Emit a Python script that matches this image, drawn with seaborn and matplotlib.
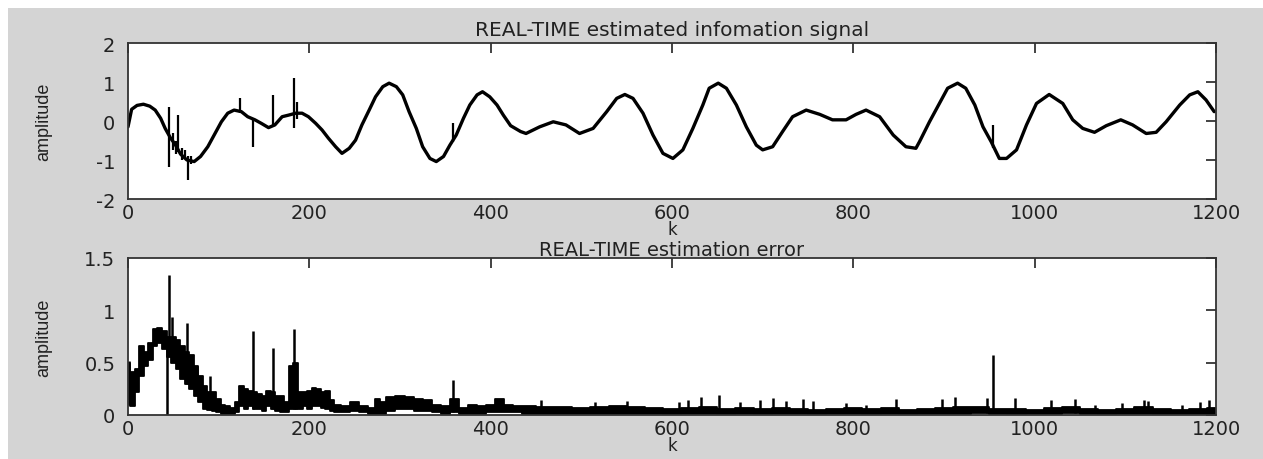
import numpy as np
import pandas as pd
import matplotlib
matplotlib.use("Agg")
import matplotlib.pyplot as plt
from matplotlib.patches import Rectangle
import seaborn as sns

# ---------------- data ----------------
sig_k = [0, 4, 10, 17, 24, 30, 36, 41, 47, 52, 58, 65, 73, 80, 88, 95, 103, 110, 117, 125,
         132, 140, 147, 155, 162, 170, 177, 185, 192, 199, 207, 214, 221, 229, 236, 244, 251,
         258, 266, 273, 281, 288, 296, 303, 310, 318, 325, 333, 340, 348, 355, 362, 370, 377,
         385, 391, 399, 407, 414, 422, 433, 439, 454, 469, 483, 498, 513, 528, 539, 548, 557,
         568, 579, 590, 601, 612, 623, 634, 641, 651, 660, 671, 682, 693, 700, 711, 722, 733,
         748, 763, 777, 792, 803, 814, 829, 844, 858, 869, 873, 884, 895, 904, 915, 924, 934,
         943, 952, 961, 969, 980, 991, 1002, 1016, 1031, 1042, 1053, 1066, 1079, 1095, 1108,
         1123, 1134, 1145, 1160, 1171, 1180, 1189, 1198]
sig_amp = [-0.15, 0.30, 0.40, 0.43, 0.38, 0.28, 0.07, -0.19, -0.44, -0.60, -0.85, -1.00, -1.04,
           -0.91, -0.66, -0.36, -0.02, 0.20, 0.28, 0.24, 0.11, 0.03, -0.06, -0.17, -0.10, 0.11,
           0.15, 0.20, 0.20, 0.11, -0.06, -0.23, -0.44, -0.66, -0.83, -0.70, -0.49, -0.10, 0.28,
           0.62, 0.88, 0.97, 0.88, 0.67, 0.24, -0.19, -0.66, -0.96, -1.04, -0.91, -0.62, -0.36,
           0.07, 0.41, 0.67, 0.75, 0.62, 0.41, 0.15, -0.12, -0.27, -0.32, -0.15, -0.02, -0.10,
           -0.32, -0.19, 0.24, 0.58, 0.68, 0.58, 0.20, -0.36, -0.83, -0.96, -0.74, -0.19, 0.41,
           0.84, 0.97, 0.84, 0.41, -0.15, -0.62, -0.74, -0.66, -0.27, 0.11, 0.28, 0.17, 0.03,
           0.03, 0.17, 0.28, 0.11, -0.36, -0.66, -0.70, -0.53, -0.02, 0.45, 0.84, 0.97, 0.84,
           0.41, -0.15, -0.53, -0.96, -0.96, -0.74, -0.10, 0.45, 0.68, 0.45, 0.03, -0.19, -0.29,
           -0.12, 0.03, -0.10, -0.32, -0.29, -0.02, 0.41, 0.67, 0.75, 0.54, 0.24]

# spikes on the signal: k, low end, high end
sig_spike_k = [45, 50, 53, 55, 60, 63, 66, 70, 124, 138, 160, 183, 186, 359, 954]
sig_spike_lo = [-1.17, -0.75, -0.85, -0.80, -1.00, -0.95, -1.51, -1.10, 0.20, -0.66, -0.15,
                -0.19, 0.05, -0.55, -0.70]
sig_spike_hi = [0.35, -0.30, -0.50, 0.15, -0.70, -0.75, -0.90, -0.90, 0.58, 0.05, 0.67,
                1.11, 0.50, -0.06, -0.10]

# error band: k, lower edge, upper edge
err_k = [0, 5, 10, 15, 20, 25, 30, 35, 40, 45, 50, 55, 60, 65, 70, 75, 80, 85, 90, 95, 100,
         105, 110, 115, 120, 125, 130, 135, 140, 145, 150, 155, 160, 165, 170, 175, 180, 185,
         190, 195, 200, 205, 210, 215, 220, 225, 230, 240, 250, 260, 270, 275, 280, 290, 300,
         310, 320, 330, 340, 350, 360, 370, 380, 390, 400, 410, 420, 430, 440, 460, 480, 500,
         520, 540, 560, 580, 600, 620, 640, 660, 680, 700, 720, 740, 760, 780, 800, 820, 840,
         860, 880, 900, 920, 940, 960, 980, 1000, 1020, 1040, 1060, 1080, 1100, 1120, 1140,
         1160, 1180, 1200]
err_lo = [0.15, 0.09, 0.22, 0.37, 0.47, 0.53, 0.66, 0.69, 0.63, 0.55, 0.50, 0.44, 0.34, 0.30,
          0.25, 0.18, 0.12, 0.06, 0.05, 0.04, 0.03, 0.01, 0.01, 0.01, 0.03, 0.09, 0.06, 0.09,
          0.06, 0.06, 0.04, 0.09, 0.06, 0.04, 0.03, 0.03, 0.06, 0.06, 0.06, 0.09, 0.06, 0.09,
          0.09, 0.07, 0.06, 0.04, 0.03, 0.03, 0.04, 0.03, 0.01, 0.01, 0.01, 0.04, 0.06, 0.06,
          0.04, 0.04, 0.03, 0.01, 0.03, 0.01, 0.01, 0.01, 0.03, 0.03, 0.03, 0.03, 0.01, 0.01,
          0.01, 0.01, 0.01, 0.01, 0.01, 0.01, 0.00, 0.01, 0.01, 0.00, 0.01, 0.00, 0.01, 0.01,
          0.00, 0.01, 0.01, 0.00, 0.01, 0.00, 0.01, 0.01, 0.01, 0.02, 0.01, 0.00, 0.01, 0.01,
          0.02, 0.01, 0.00, 0.01, 0.01, 0.00, 0.00, 0.01, 0.01]
err_hi = [0.50, 0.41, 0.44, 0.66, 0.60, 0.69, 0.82, 0.83, 0.80, 0.75, 0.75, 0.72, 0.66, 0.60,
          0.57, 0.47, 0.37, 0.28, 0.22, 0.22, 0.15, 0.10, 0.09, 0.07, 0.12, 0.28, 0.25, 0.23,
          0.22, 0.20, 0.18, 0.23, 0.22, 0.18, 0.18, 0.12, 0.47, 0.50, 0.22, 0.22, 0.23, 0.26,
          0.25, 0.22, 0.23, 0.14, 0.10, 0.09, 0.12, 0.09, 0.07, 0.15, 0.12, 0.17, 0.18, 0.17,
          0.15, 0.14, 0.10, 0.09, 0.15, 0.07, 0.10, 0.09, 0.10, 0.15, 0.10, 0.09, 0.09, 0.08,
          0.08, 0.07, 0.08, 0.09, 0.08, 0.07, 0.06, 0.07, 0.08, 0.06, 0.07, 0.06, 0.07, 0.06,
          0.05, 0.06, 0.07, 0.06, 0.07, 0.05, 0.06, 0.07, 0.08, 0.08, 0.06, 0.06, 0.05, 0.07,
          0.08, 0.06, 0.05, 0.06, 0.08, 0.06, 0.05, 0.06, 0.07]

# spikes on the error: k, low end, high end
err_spike_k = [1, 43, 45, 48, 65, 76, 90, 138, 160, 183, 185, 358, 456, 515, 550, 608, 618, 632,
               652, 675, 697, 711, 726, 744, 755, 792, 814, 847, 898, 912, 947, 954, 978, 1018,
               1044, 1066, 1096, 1121, 1125, 1162, 1182, 1192]
err_spike_lo = [0.10, 0.00, 0.60, 0.55, 0.30, 0.20, 0.05, 0.06, 0.06, 0.06, 0.06, 0.03, 0.02,
                0.02, 0.02, 0.02, 0.02, 0.02, 0.02, 0.02, 0.02, 0.02, 0.02, 0.02, 0.02, 0.02,
                0.02, 0.02, 0.02, 0.02, 0.02, 0.02, 0.02, 0.02, 0.02, 0.02, 0.02, 0.02, 0.02,
                0.02, 0.02, 0.02]
err_spike_hi = [0.52, 0.70, 1.34, 0.94, 0.88, 0.47, 0.37, 0.80, 0.64, 0.82, 0.50, 0.33, 0.14,
                0.12, 0.13, 0.12, 0.14, 0.17, 0.19, 0.12, 0.14, 0.16, 0.13, 0.15, 0.13, 0.11,
                0.10, 0.15, 0.15, 0.17, 0.16, 0.57, 0.16, 0.14, 0.15, 0.10, 0.11, 0.14, 0.13,
                0.10, 0.12, 0.14]

x_ticks = [0, 200, 400, 600, 800, 1000, 1200]
top_yticks = [-2, -1, 0, 1, 2]
bot_yticks = [0, 0.5, 1, 1.5]
bot_yticklabels = ["0", "0.5", "1", "1.5"]

title_top = "REAL-TIME estimated infomation signal"
title_bot = "REAL-TIME estimation error"

# ---------------- figure ----------------
sns.set_style("white")
plt.rcParams["font.family"] = ["DejaVu Sans"]

W, H = 1263, 460
fig = plt.figure(figsize=(W / 100, H / 100), dpi=100, facecolor="white")
gray = "#d4d4d4"
fig.patches.append(Rectangle((8 / W, 0), 1 - 8 / W, (H - 9) / H, transform=fig.transFigure,
                             facecolor=gray, edgecolor="none", zorder=-10))

ax1 = fig.add_axes([128 / W, (H - 200) / H, 1088 / W, 156 / H])
ax2 = fig.add_axes([128 / W, (H - 416) / H, 1088 / W, 157 / H])

# signal
sig_df = pd.DataFrame({"k": sig_k, "amp": sig_amp})
sns.lineplot(data=sig_df, x="k", y="amp", ax=ax1, color="black", linewidth=2.4,
             estimator=None, sort=True)
ax1.vlines(sig_spike_k, sig_spike_lo, sig_spike_hi, color="black", linewidth=1.6)

# error band
err_df = pd.DataFrame({"k": err_k, "lo": err_lo, "hi": err_hi})
ax2.fill_between(err_df["k"], err_df["lo"], err_df["hi"], step="mid", color="black",
                 linewidth=0)
sns.lineplot(data=err_df, x="k", y="hi", ax=ax2, color="black", linewidth=1.3,
             estimator=None, drawstyle="steps-mid")
sns.lineplot(data=err_df, x="k", y="lo", ax=ax2, color="black", linewidth=1.3,
             estimator=None, drawstyle="steps-mid")
ax2.vlines(err_spike_k, err_spike_lo, err_spike_hi, color="black", linewidth=1.8)

tick_font = 14
for ax in (ax1, ax2):
    ax.set_facecolor("white")
    ax.set_xlim(0, 1200)
    ax.set_xticks(x_ticks)
    ax.set_xticklabels([str(v) for v in x_ticks])
    ax.tick_params(axis="both", direction="in", top=True, right=True, length=7,
                   width=1.2, color="#222222", labelsize=tick_font, labelcolor="#222222")
    ax.tick_params(axis="x", pad=3)
    ax.tick_params(axis="y", pad=9)
    for s in ax.spines.values():
        s.set_color("#333333")
        s.set_linewidth(1.3)
    ax.set_xlabel("k", fontsize=12, color="#222222")
    ax.xaxis.set_label_coords(0.5, -0.135)
    ax.set_ylabel("amplitude", fontsize=13, family="Liberation Sans", color="#222222")
    ax.yaxis.set_label_coords(-0.070, 0.5)

ax1.set_ylim(-2, 2)
ax1.set_yticks(top_yticks)
ax1.set_yticklabels([str(v) for v in top_yticks])
ax1.set_title(title_top, fontsize=14.5, color="#222222", pad=6)

ax2.set_ylim(0, 1.5)
ax2.set_yticks(bot_yticks)
ax2.set_yticklabels(bot_yticklabels)
ax2.set_title(title_bot, fontsize=14, color="#222222", pad=2)

fig.savefig("out.png", dpi=100, facecolor="white")
